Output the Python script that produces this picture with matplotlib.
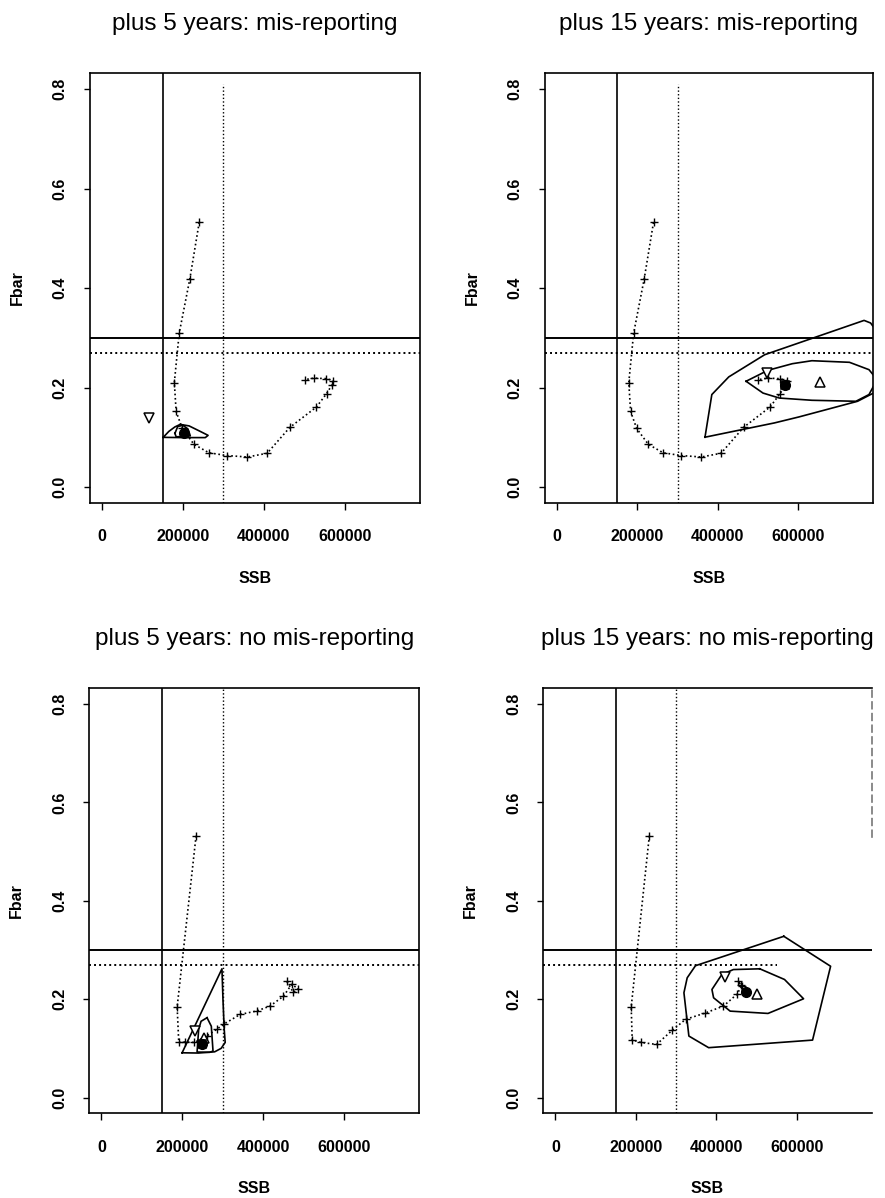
import matplotlib
matplotlib.use("Agg")
import matplotlib.pyplot as plt

plt.rcParams['font.family'] = ['Liberation Sans', 'DejaVu Sans']

# reference points
blim, bpa = 150000, 300000
flim, fpa = 0.30, 0.27

titles = ["plus 5 years: mis-reporting", "plus 15 years: mis-reporting",
          "plus 5 years: no mis-reporting", "plus 15 years: no mis-reporting"]

xticks = [0, 200000, 400000, 600000]
yticks = [0.0, 0.2, 0.4, 0.6, 0.8]

# SSB / Fbar trajectory, mis-reporting runs (top row)
traj_mis_ssb = [240000, 217000, 190500, 178500, 183000, 198000, 227000, 264000, 308000,
                359000, 408000, 464000, 530000, 555000, 568000, 571000, 554000, 524000, 501000]
traj_mis_f = [0.532, 0.419, 0.309, 0.210, 0.152, 0.118, 0.086, 0.069, 0.0635,
              0.0605, 0.068, 0.120, 0.161, 0.188, 0.205, 0.214, 0.218, 0.219, 0.216]

# trajectory, no mis-reporting, plus 5 years
traj_no5_ssb = [234000, 187200, 191200, 207600, 230000, 260000, 285700, 302000, 343000,
                384000, 417000, 450000, 470400, 486800, 474400, 458100]
traj_no5_f = [0.532, 0.184, 0.112, 0.113, 0.112, 0.125, 0.139, 0.149, 0.169,
              0.176, 0.186, 0.206, 0.230, 0.221, 0.214, 0.2365]

# trajectory, no mis-reporting, plus 15 years
traj_no15_ssb = [233400, 188400, 190900, 213000, 251400, 290700, 323600, 372700, 417700,
                 450400, 462700, 454500, 460000, 472000]
traj_no15_f = [0.532, 0.184, 0.117, 0.112, 0.108, 0.137, 0.159, 0.172, 0.186,
               0.2095, 0.226, 0.2365, 0.228, 0.218]

# confidence contours (outer, inner) per panel
outer1_ssb = [151000, 165000, 180000, 193000, 215000, 240000, 262000, 255000, 200000, 151000]
outer1_f = [0.100, 0.112, 0.121, 0.126, 0.123, 0.113, 0.104, 0.0995, 0.0995, 0.100]
inner1_ssb = [180000, 187000, 200000, 212000, 218000, 183000, 180000]
inner1_f = [0.108, 0.122, 0.124, 0.117, 0.103, 0.101, 0.108]

outer2_ssb = [368100, 385100, 427300, 516500, 763900, 780100, 804400, 804400, 780100,
              747700, 601700, 540900, 368100]
outer2_f = [0.1003, 0.186, 0.2215, 0.266, 0.335, 0.3298, 0.303, 0.196, 0.186,
            0.1725, 0.141, 0.129, 0.1003]
inner2_ssb = [470300, 524600, 585400, 634100, 727500, 776100, 796300, 776100, 743600,
              634100, 553000, 512400, 470300]
inner2_f = [0.2127, 0.2347, 0.248, 0.254, 0.2508, 0.236, 0.216, 0.186, 0.1725,
            0.1745, 0.179, 0.189, 0.2127]

outer3_ssb = [199500, 298000, 300500, 303500, 306000, 296000, 280000, 240000, 199500]
outer3_f = [0.091, 0.2617, 0.20, 0.14, 0.112, 0.100, 0.093, 0.0905, 0.091]
inner3_ssb = [261100, 271700, 275900, 268000, 236500, 240400, 246300, 261100]
inner3_f = [0.1623, 0.145, 0.0945, 0.092, 0.0925, 0.1385, 0.155, 0.1623]

outer4_ssb = [567600, 683800, 639000, 380800, 331700, 319400, 327500, 348100, 567600]
outer4_f = [0.3278, 0.2669, 0.1168, 0.1014, 0.125, 0.213, 0.2434, 0.268, 0.3278]
inner4_ssb = [507900, 569300, 616700, 528300, 434200, 393100, 389000, 413500, 442300, 507900]
inner4_f = [0.2617, 0.240, 0.2008, 0.171, 0.1757, 0.2028, 0.2197, 0.250, 0.2602, 0.2617]

# point estimates: down triangle, filled circle, up triangle
down_pts = [(115000, 0.138), (522200, 0.2295), (232300, 0.135), (421900, 0.2454)]
dot_pts = [(201500, 0.1097), (567600, 0.206), (248800, 0.108), (472500, 0.2142)]
up_pts = [None, (654500, 0.2107), (252700, 0.1217), (501200, 0.2095)]
square_pts = [None, (567600, 0.206), (248800, 0.108), None]

panels = [
    (traj_mis_ssb, traj_mis_f, outer1_ssb, outer1_f, inner1_ssb, inner1_f),
    (traj_mis_ssb, traj_mis_f, outer2_ssb, outer2_f, inner2_ssb, inner2_f),
    (traj_no5_ssb, traj_no5_f, outer3_ssb, outer3_f, inner3_ssb, inner3_f),
    (traj_no15_ssb, traj_no15_f, outer4_ssb, outer4_f, inner4_ssb, inner4_f),
]

rects = [[0.1017, 0.5801, 0.3729, 0.3589],
         [0.6158, 0.5801, 0.3706, 0.3589],
         [0.1009, 0.0707, 0.3729, 0.3548],
         [0.6139, 0.0707, 0.3711, 0.3548]]

fig = plt.figure(figsize=(8.85, 11.98), dpi=100)
xlim = (-30000, 786000)
ylim = (-0.032, 0.832)
dots = (0, (1, 1.6))

for i, (tx, ty, ox, oy, ix, iy) in enumerate(panels):
    ax = fig.add_axes(rects[i])
    ax.set_xlim(xlim)
    ax.set_ylim(ylim)

    # reference lines
    ax.axvline(blim, color='black', lw=1.2)
    ax.axhline(flim, color='black', lw=1.4)
    top = 0.81 if i < 2 else ylim[1]
    ax.vlines(bpa, ylim[0], top, colors='black', lw=1.0, linestyles=[dots])
    right = 550000 if i == 3 else xlim[1]
    ax.hlines(fpa, xlim[0], right, colors='black', lw=1.4, linestyles=[dots])

    # contours
    ax.plot(ox, oy, color='black', lw=1.2)
    ax.plot(ix, iy, color='black', lw=1.2)

    # trajectory
    ax.plot(tx, ty, color='black', lw=1.2, linestyle=dots,
            marker='+', markersize=6, markeredgewidth=1.0)

    # estimates
    ax.plot(*down_pts[i], marker='v', markersize=7, mfc='white', mec='black', mew=1.1)
    if up_pts[i] is not None:
        ax.plot(*up_pts[i], marker='^', markersize=7, mfc='white', mec='black', mew=1.1)
    if square_pts[i] is not None:
        ax.plot(*square_pts[i], marker='s', markersize=6, mfc='none', mec='black', mew=1.1)
    ax.plot(*dot_pts[i], marker='o', markersize=7, color='black')

    ax.set_xticks(xticks)
    ax.set_xticklabels([str(v) for v in xticks])
    ax.set_yticks(yticks)
    ax.set_yticklabels(['%.1f' % v for v in yticks], rotation=90, va='center')
    ax.tick_params(axis='x', length=5, width=1, pad=14, labelsize=11.5)
    ax.tick_params(axis='y', length=4, width=1, pad=12, labelsize=11.5)
    for lab in ax.get_xticklabels() + ax.get_yticklabels():
        lab.set_fontweight('bold')
    for sp in ax.spines.values():
        sp.set_linewidth(1.2)
    if i == 3:
        ax.spines['right'].set_bounds(0.53, ylim[1])
        ax.spines['right'].set_linestyle((0, (4, 3)))
        ax.spines['right'].set_color('#777777')

    ax.set_xlabel('SSB', fontsize=11.5, fontweight='bold', labelpad=19)
    ax.set_ylabel('Fbar', fontsize=11.5, fontweight='bold', labelpad=20)
    ax.set_title(titles[i], fontsize=17.5, pad=31)

fig.savefig('out.png', dpi=100)
